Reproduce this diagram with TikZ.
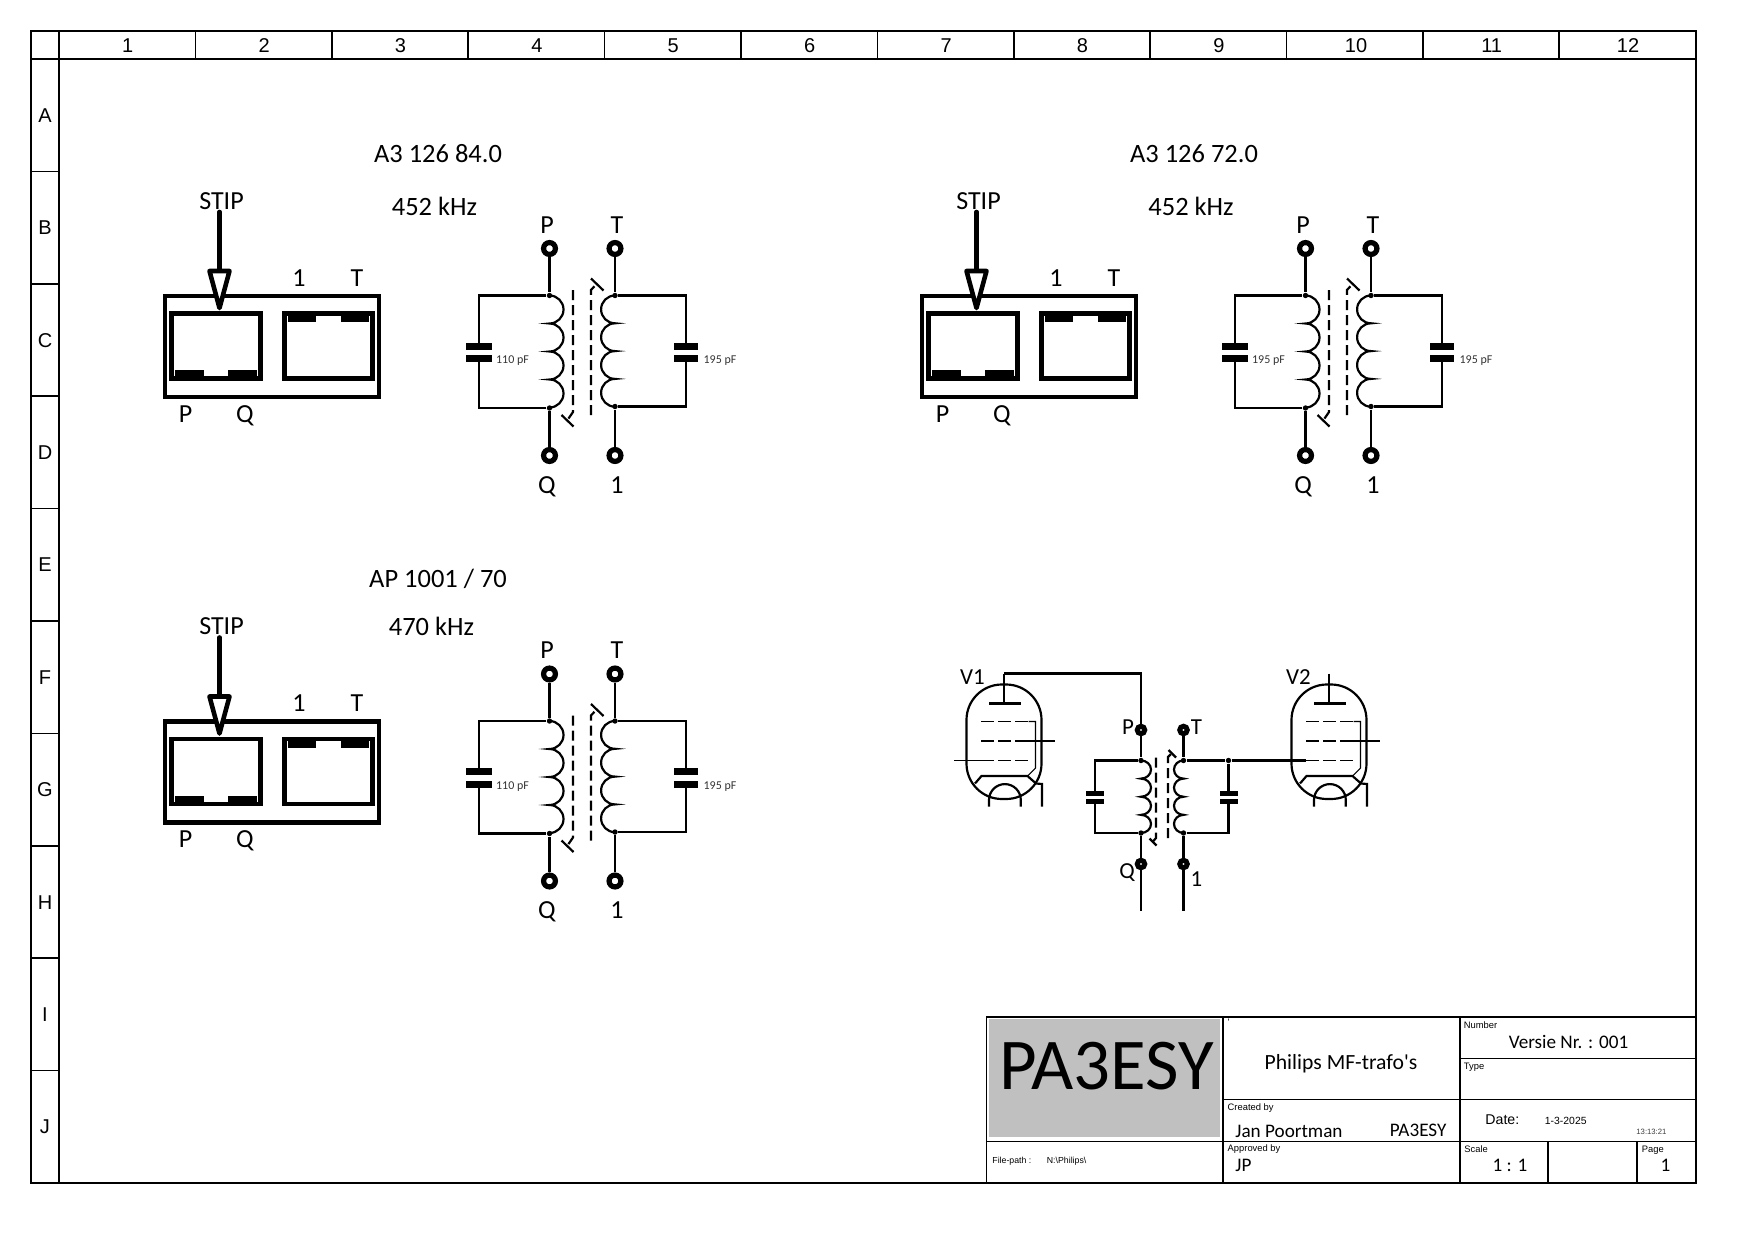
\documentclass[tikz,border=0pt]{standalone}
\usepackage{fontspec}
\setmainfont{Carlito}
\setsansfont{Liberation Sans}
\definecolor{logogray}{RGB}{192,192,192}

\tikzset{
    wire/.style = {line width = 1.05pt, black},
    thinwire/.style = {line width = 0.5pt, black},
    heavy/.style = {line width = 2.2pt, black},
    framing/.style = {line width = 0.85pt, black},
    core/.style = {wire, dash pattern = on 4.8pt off 2.4pt},
    griddash/.style = {line width = 0.7pt, black, dash pattern = on 6.2pt off 2pt},
    lab/.style = {font = {\fontsize{12.5}{14}\selectfont}, inner sep = 0pt},
    tubelab/.style = {font = {\fontsize{11}{13}\selectfont}, inner sep = 0pt},
    headlab/.style = {font = {\fontsize{12.7}{14}\selectfont}, inner sep = 0pt},
    caplab/.style = {font = {\fontsize{5.75}{7}\selectfont}, inner sep = 0pt, black!80},
    ruler/.style = {font = {\sffamily\fontsize{9.6}{11}\selectfont}, inner sep = 0pt},
    cell/.style = {font = {\fontsize{9.2}{11}\selectfont}, inner sep = 0pt, anchor = west},
    tiny/.style = {font = {\sffamily\fontsize{4.5}{6}\selectfont}, inner sep = 0pt, anchor = west},
    ring/.style = {circle, draw, fill = white, line width = 2.5pt, minimum size = 5.7pt, inner sep = 0pt},
    smallring/.style = {circle, draw, fill = white, line width = 2.4pt, minimum size = 3.6pt, inner sep = 0pt},
    dot/.style = {circle, fill = black, minimum size = 2.6pt, inner sep = 0pt},
    pics/stripbox/.style = {code = {
        \node[lab] (-stip) at (221.5, 201) {STIP};
        \node[lab] (-one) at (299, 278) {1};
        \node[lab] (-tee) at (357, 278) {T};
        \node[lab] (-pee) at (185.5, 414) {P};
        \node[lab] (-que) at (245, 415.5) {Q};
        \draw[heavy] (165, 296) rectangle (379, 397);
        \draw[heavy] (171.5, 313.5) rectangle (260.5, 378.5);
        \draw[heavy] (284.5, 313.5) rectangle (372.5, 378.5);
        \fill (175, 370) rectangle (204, 377);
        \fill (228, 370) rectangle (257, 377);
        \fill (288, 315) rectangle (316, 322);
        \fill (341, 315) rectangle (369, 322);
        \coordinate (-tail) at (219.5, 212);
        \coordinate (-neck) at (219.5, 271);
        \draw[heavy, line cap = round] (-tail) -- (-neck);
        \draw[heavy, fill = white, line join = round] (209.5, 271) -- (229.5, 271) -- (219.5, 308) -- cycle;
    }},
    pics/trafo/.style 2 args = {code = {
        \node[lab] (-lp) at (547, 225) {P};
        \node[lab] (-lt) at (617, 225) {T};
        \node[lab] (-lq) at (547, 486.5) {Q};
        \node[lab] (-lo) at (617, 485) {1};
        \node[ring] (-p) at (549.5, 248.5) {};
        \node[ring] (-t) at (615, 248.5) {};
        \node[ring] (-q) at (549.5, 455.5) {};
        \node[ring] (-o) at (615, 455.5) {};
        \node[dot] (-jp) at (549.5, 295.5) {};
        \node[dot] (-jq) at (549.5, 408) {};
        \node[dot] (-jt) at (615, 295.5) {};
        \node[dot] (-jo) at (615, 406.5) {};
        \draw[wire] (-p) -- (-jp);
        \draw[wire] (-q) -- (-jq);
        \draw[wire] (-t) -- (-jt);
        \draw[wire] (-o) -- (-jo);
        % left coil and capacitor
        \draw[wire] (-jp.center) arc[start angle = -90, end angle = 90, radius = 14]
            arc[start angle = -90, end angle = 90, radius = 14]
            arc[start angle = -90, end angle = 90, radius = 14]
            arc[start angle = -90, end angle = 90, radius = 14];
        \draw[wire] (-jp) -- (479, 295.5) -- (479, 346);
        \draw[wire] (-jq) -- (479, 408) -- (479, 358);
        \fill (466, 342.5) rectangle (492, 349.5);
        \fill (466, 355) rectangle (492, 362);
        \node[caplab] (-cl) at (512.5, 361) {#1};
        % right coil and capacitor
        \draw[wire] (-jt.center) arc[start angle = -90, end angle = -270, radius = 13.9]
            arc[start angle = -90, end angle = -270, radius = 13.9]
            arc[start angle = -90, end angle = -270, radius = 13.9]
            arc[start angle = -90, end angle = -270, radius = 13.9];
        \draw[wire] (-jt) -- (686, 295.5) -- (686, 346);
        \draw[wire] (-jo) -- (686, 406.5) -- (686, 358);
        \fill (673.5, 342.5) rectangle (698, 349.5);
        \fill (673.5, 355) rectangle (698, 362);
        \node[caplab] (-cr) at (720, 361) {#2};
        % core
        \draw[core] (573, 290) -- (573, 412) -- (567.5, 420);
        \draw[wire] (561.5, 415) -- (573.5, 426.5);
        \draw[core] (591, 415) -- (591, 290) -- (596.5, 284);
        \draw[wire] (591, 278.5) -- (603.5, 290.5);
    }},
    pics/tube/.style = {code = {
        \draw[wire, rounded corners = 17pt] (966.5, 684.5) rectangle (1041.5, 799);
        \coordinate (-top) at (1004, 673.5);
        \coordinate (-plate) at (1004, 703.5);
        \draw[wire] (-top) -- (-plate);
        \draw[line width = 1.3pt] (989, 703.5) -- (1021, 703.5);
        \draw[griddash] (981, 721.5) -- (1028.5, 721.5);
        \draw[griddash] (981, 741) -- (1028.5, 741);
        \draw[griddash] (981, 760.5) -- (1028.5, 760.5);
        \coordinate (-gate) at (981, 760.5);
        \draw[griddash, dash pattern = {}] (1016.5, 741) -- (1055, 741);
        \draw[thinwire] (1028.5, 721.5) -- (1035.5, 721.5) -- (1035.5, 768) -- (1027.5, 776);
        \draw[wire] (975, 783.5) -- (981.5, 776) -- (1027.5, 776) -- (1036, 783.5) -- (1042, 784) -- (1042, 806.5);
        \draw[wire] (989, 806.5) -- (989, 800) arc[start angle = 180, end angle = 360, radius = 15.9] -- (1020.8, 806.5);
    }}
}

\begin{document}
\begin{tikzpicture}[x = 0.48pt, y = -0.48pt]
    \useasboundingbox (0, 0) rectangle (1754, 1240);

    % sheet frame
    \draw[framing] (31, 31) rectangle (1695.7, 1183);
    \draw[framing, shift = {(59, 31)}, xstep = 65.47pt, ystep = 500pt] (0, 0) grid (1636.7, 28);
    \draw[framing, shift = {(31, 59)}, xstep = 500pt, ystep = 53.95pt] (0, 0) grid (28, 1124);
    \draw[framing] (59, 31) -- (59, 1183);
    \draw[framing] (31, 59) -- (1695.7, 59);

    \node[ruler] (col1) at (127.7, 45.5) {1};
    \node[ruler] (col2) at (264.1, 45.5) {2};
    \node[ruler] (col3) at (400.5, 45.5) {3};
    \node[ruler] (col4) at (536.9, 45.5) {4};
    \node[ruler] (col5) at (673.3, 45.5) {5};
    \node[ruler] (col6) at (809.7, 45.5) {6};
    \node[ruler] (col7) at (946.1, 45.5) {7};
    \node[ruler] (col8) at (1082.5, 45.5) {8};
    \node[ruler] (col9) at (1218.9, 45.5) {9};
    \node[ruler] (col10) at (1356, 45.5) {10};
    \node[ruler] (col11) at (1491.7, 45.5) {11};
    \node[ruler] (col12) at (1628.1, 45.5) {12};

    \node[ruler] (rowa) at (45, 115.2) {A};
    \node[ruler] (rowb) at (45, 227.6) {B};
    \node[ruler] (rowc) at (45, 340.5) {C};
    \node[ruler] (rowd) at (45, 452.9) {D};
    \node[ruler] (rowe) at (45, 565) {E};
    \node[ruler] (rowf) at (45, 677.6) {F};
    \node[ruler] (rowg) at (45, 790) {G};
    \node[ruler] (rowh) at (45, 902.4) {H};
    \node[ruler] (rowi) at (45, 1014.8) {I};
    \node[ruler] (rowj) at (45, 1127.2) {J};

    % the three transformers
    \node[headlab] (typea) at (438, 153.5) {A3 126 84.0};
    \node[headlab] (freqa) at (434.5, 206) {452 kHz};
    \pic (boxa) at (0, 0) {stripbox};
    \pic (trafoa) at (0, 0) {trafo = {110 pF}{195 pF}};

    \node[headlab] (typeb) at (1194, 153.5) {A3 126 72.0};
    \node[headlab] (freqb) at (1191, 206) {452 kHz};
    \pic (boxb) at (757, 0) {stripbox};
    \pic (trafob) at (756, 0) {trafo = {195 pF}{195 pF}};

    \node[headlab] (typec) at (438, 579) {AP 1001 / 70};
    \node[headlab] (freqc) at (431.5, 626) {470 kHz};
    \pic (boxc) at (0, 425.5) {stripbox};
    \pic (trafoc) at (0, 425.5) {trafo = {110 pF}{195 pF}};

    % tube stage
    \node[tubelab] (vone) at (972.5, 677) {V1};
    \node[tubelab] (vtwo) at (1298.5, 677) {V2};
    \pic (tubea) at (0, 0) {tube};
    \pic (tubeb) at (325, 0) {tube};

    \node[tubelab] (sp) at (1128, 727) {P};
    \node[tubelab] (st) at (1196.5, 727) {T};
    \node[tubelab] (sq) at (1127, 873) {Q};
    \node[tubelab] (so) at (1196.5, 879) {1};
    \node[smallring] (termp) at (1141, 730) {};
    \node[smallring] (termt) at (1183.5, 730) {};
    \node[smallring] (termq) at (1141, 864) {};
    \node[smallring] (termo) at (1183.5, 864) {};
    \node[dot] (jtp) at (1141, 760.5) {};
    \node[dot] (jtt) at (1183.5, 760.5) {};
    \node[dot] (jtq) at (1141, 833) {};
    \node[dot] (jto) at (1183.5, 833) {};
    \node[dot] (jcap) at (1228.5, 760.5) {};
    \coordinate (endq) at (1141, 910.5);
    \coordinate (endo) at (1183.5, 910.5);
    \coordinate (stub) at (954, 760.5);

    \draw[wire] (tubea-top) -| (termp);
    \draw[wire] (termp) -- (jtp);
    \draw[wire] (termt) -- (jtt);
    \draw[wire] (jtq) -- (termq);
    \draw[wire] (jto) -- (termo);
    \draw[wire] (termq) -- (endq);
    \draw[wire] (termo) -- (endo);
    \draw[griddash, dash pattern = {}] (stub) -- (tubea-gate);
    \draw[wire] (jtt) -- (jcap);
    \draw[wire] (jcap) -- (tubeb-gate);

    \draw[wire] (jtp.center) arc[start angle = -90, end angle = 90, x radius = 10, y radius = 9.06]
        arc[start angle = -90, end angle = 90, x radius = 10, y radius = 9.06]
        arc[start angle = -90, end angle = 90, x radius = 10, y radius = 9.06]
        arc[start angle = -90, end angle = 90, x radius = 10, y radius = 9.06];
    \draw[wire] (jtt.center) arc[start angle = -90, end angle = -270, x radius = 9.5, y radius = 9.06]
        arc[start angle = -90, end angle = -270, x radius = 9.5, y radius = 9.06]
        arc[start angle = -90, end angle = -270, x radius = 9.5, y radius = 9.06]
        arc[start angle = -90, end angle = -270, x radius = 9.5, y radius = 9.06];

    \draw[wire] (jtp) -- (1095, 760.5) -- (1095, 793);
    \draw[wire] (jtq) -- (1095, 833) -- (1095, 801);
    \fill (1086, 790.5) rectangle (1104, 795.5);
    \fill (1086, 799) rectangle (1104, 804);
    \draw[wire] (jcap) -- (1228.5, 793);
    \draw[wire] (jto) -- (1228.5, 833) -- (1228.5, 801);
    \fill (1220, 790.5) rectangle (1238, 795.5);
    \fill (1220, 799) rectangle (1238, 804);

    \draw[core] (1156, 757.5) -- (1156, 838) -- (1152.5, 842);
    \draw[wire] (1149.5, 838.5) -- (1156.5, 845.5);
    \draw[core] (1168, 838) -- (1168, 757) -- (1171.5, 753.5);
    \draw[wire] (1168.5, 750) -- (1176, 757.5);

    % title block
    \fill[logogray] (988.5, 1019) rectangle (1220, 1137);
    \draw[framing] (986.5, 1017) rectangle (1695.7, 1183);
    \draw[framing] (1222.7, 1017) -- (1222.7, 1183);
    \draw[framing] (1460.3, 1017) -- (1460.3, 1183);
    \draw[framing] (1460.3, 1058.5) -- (1695.7, 1058.5);
    \draw[framing] (1222.7, 1099.5) -- (1695.7, 1099.5);
    \draw[framing] (986.5, 1141.5) -- (1695.7, 1141.5);
    \draw[framing] (1548, 1141.5) -- (1548, 1183);
    \draw[framing] (1637.3, 1141.5) -- (1637.3, 1183);

    \node[font = {\fontsize{35}{38}\selectfont}, inner sep = 0pt] (logo) at (1106.5, 1066) {PA3ESY};
    \node[font = {\fontsize{10.4}{12}\selectfont}, inner sep = 0pt] (title) at (1341, 1064) {Philips MF-trafo\textquotesingle s};
    \node[tiny] (tick) at (1227.3, 1022) {\textquotesingle};
    \node[tiny] (number) at (1463.5, 1025.5) {Number};
    \node[cell, anchor = center] (version) at (1568.5, 1042) {Versie Nr. : 001};
    \node[tiny] (typeword) at (1463.5, 1067) {Type};
    \node[tiny] (created) at (1227.3, 1108.5) {Created by};
    \node[cell] (author) at (1235, 1131) {Jan Poortman};
    \node[cell] (call) at (1389.5, 1130.5) {PA3ESY};
    \node[tiny, font = {\sffamily\fontsize{6.8}{8}\selectfont}] (dateword) at (1485, 1119.5) {Date:};
    \node[tiny, font = {\sffamily\fontsize{5}{6}\selectfont}] (date) at (1544.5, 1121) {1-3-2025};
    \node[tiny, font = {\sffamily\fontsize{3.7}{5}\selectfont}, black!75] (clock) at (1636, 1131.5) {13:13:21};
    \node[tiny, font = {\sffamily\fontsize{4.2}{5}\selectfont}] (filepath) at (992, 1161) {File-path :};
    \node[tiny, font = {\sffamily\fontsize{4.2}{5}\selectfont}] (filedir) at (1046.5, 1161) {N:\textbackslash Philips\textbackslash};
    \node[tiny] (approved) at (1227.3, 1149.5) {Approved by};
    \node[cell] (initials) at (1235, 1165) {JP};
    \node[tiny] (scaleword) at (1464, 1149.5) {Scale};
    \node[cell, anchor = center] (scalevalue) at (1510, 1165.5) {1 : 1};
    \node[tiny] (pageword) at (1641.5, 1150.5) {Page};
    \node[cell, anchor = center] (pagevalue) at (1665.5, 1165.5) {1};
\end{tikzpicture}
\end{document}
